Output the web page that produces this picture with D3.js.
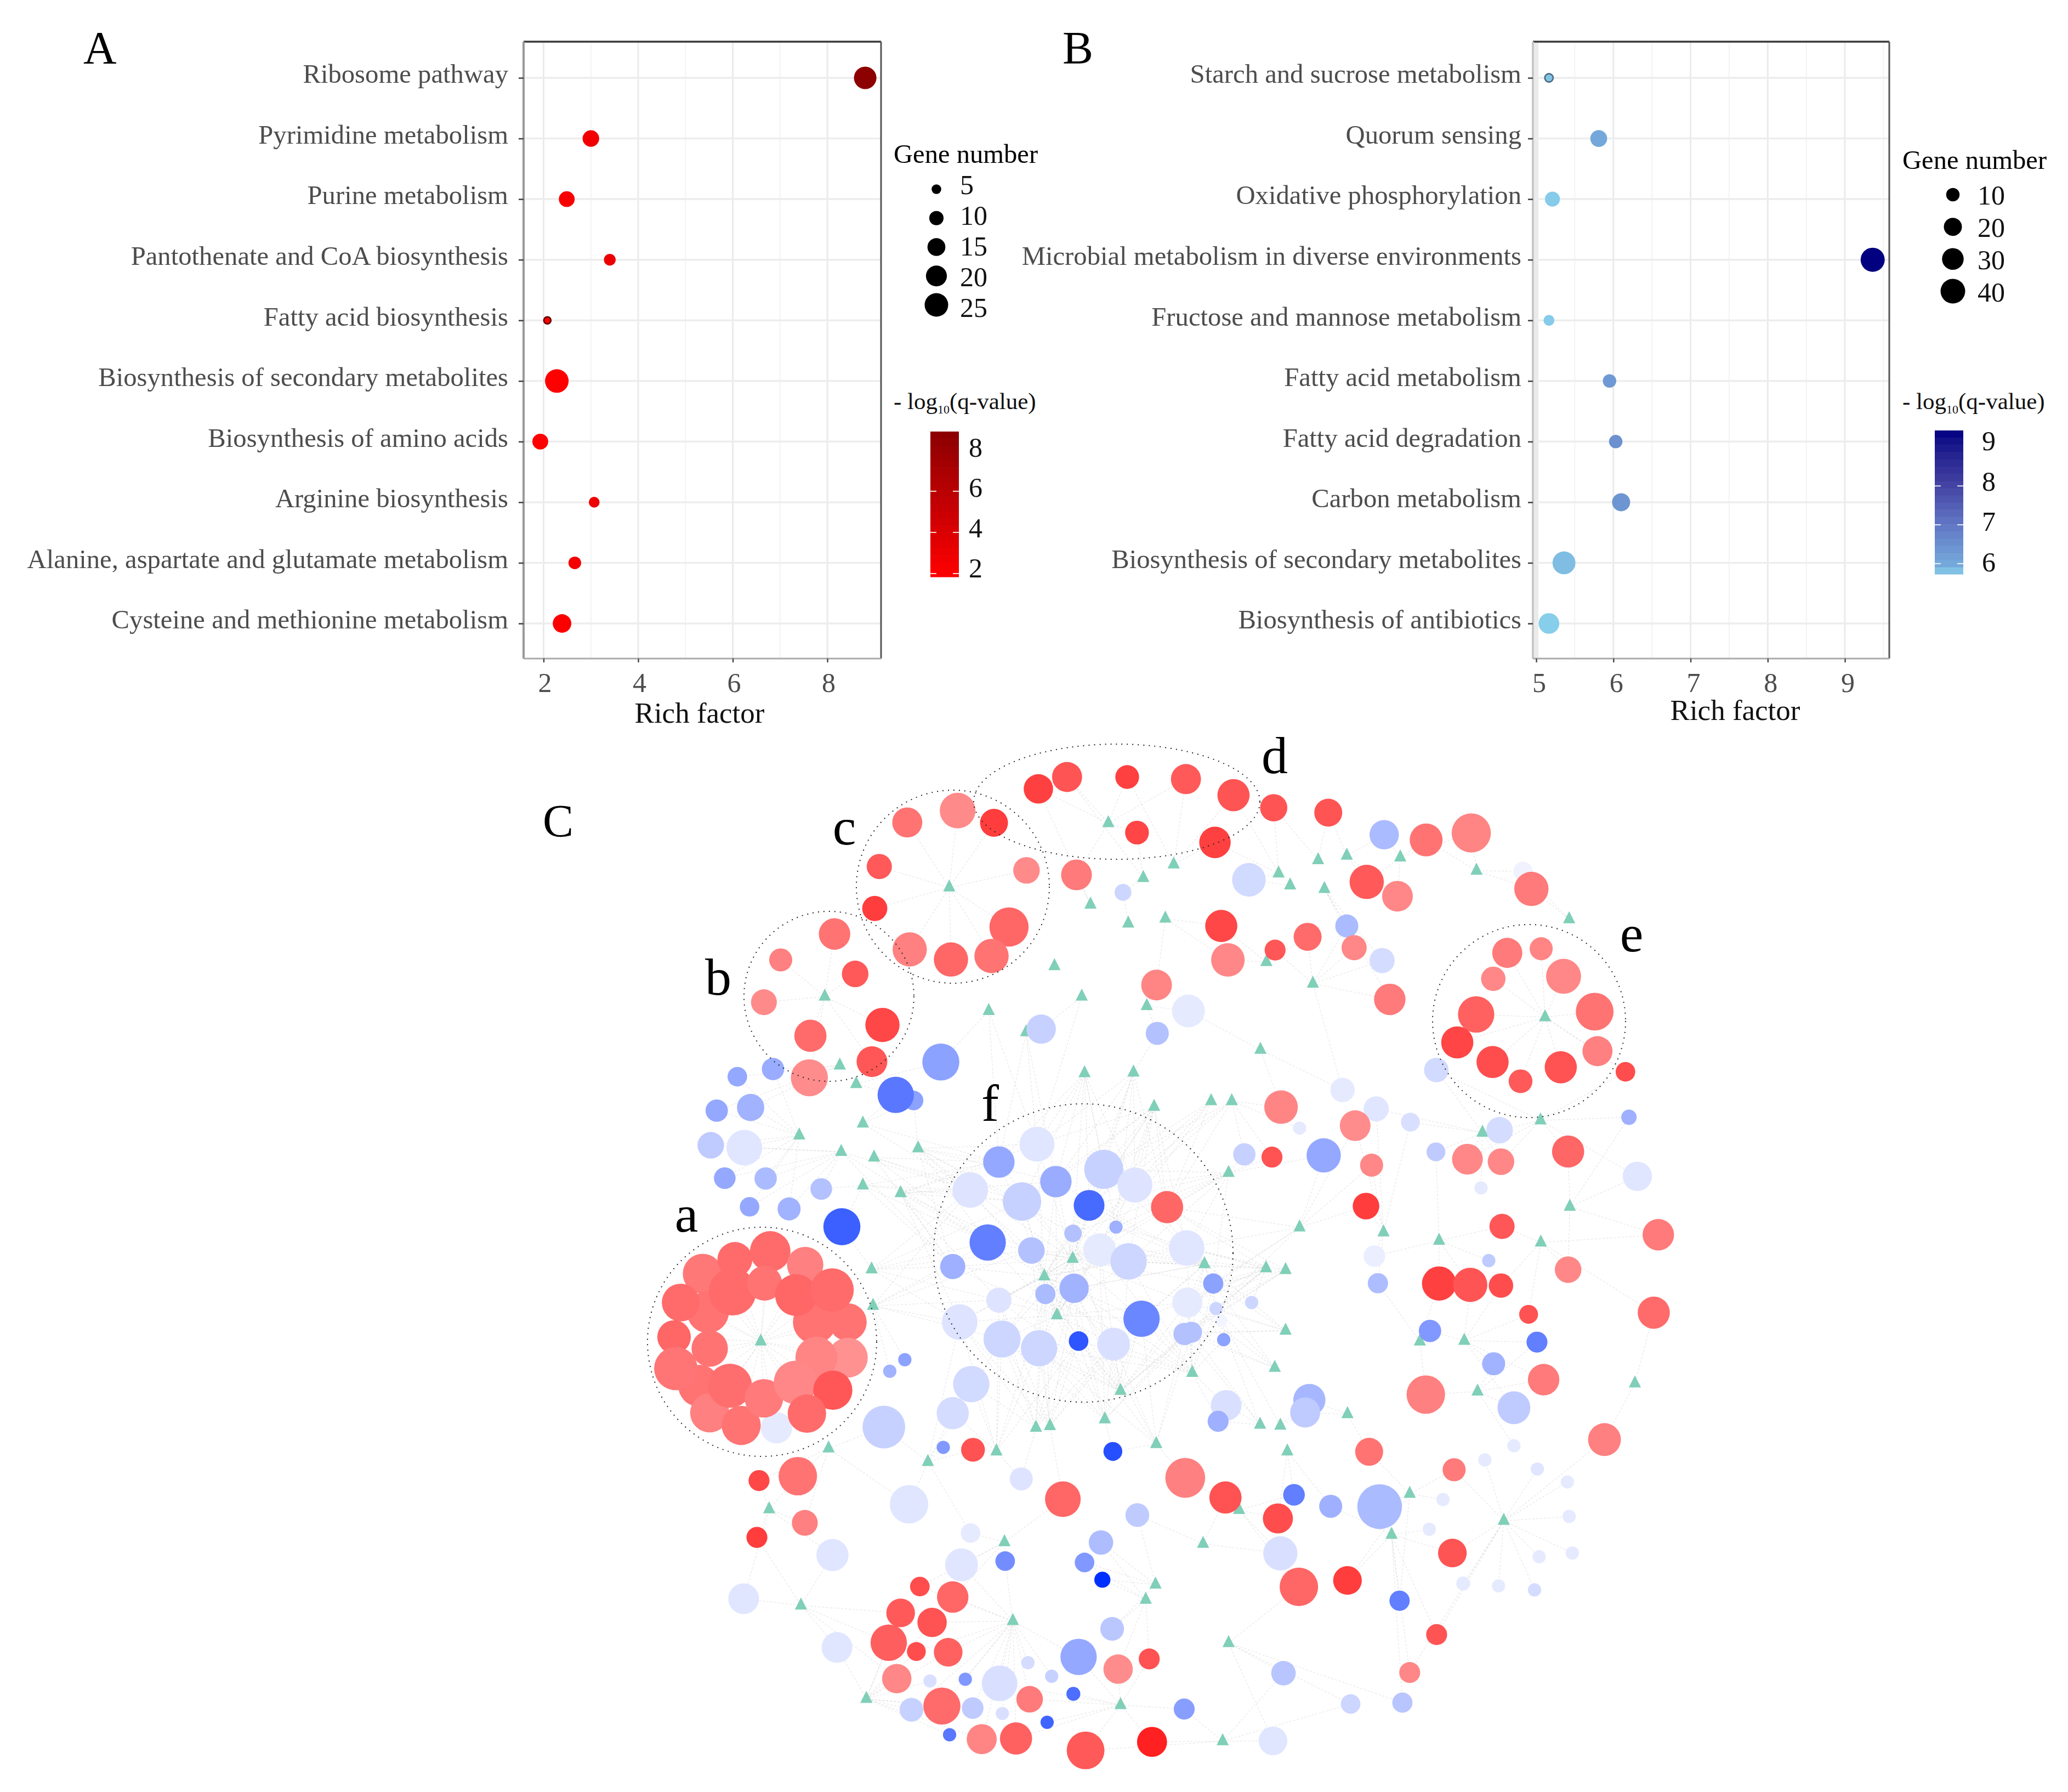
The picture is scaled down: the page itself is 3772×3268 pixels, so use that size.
<!DOCTYPE html>
<html><head><meta charset="utf-8">
<script src="https://cdn.jsdelivr.net/npm/d3@7"></script>
<style>html,body{margin:0;padding:0;background:#fff}svg{display:block}text{font-family:"Liberation Serif","Times New Roman",serif}</style>
</head><body><svg id="c" width="3772" height="3268"></svg>
<script>
// ---------- Panel A data ----------
const catsA=["Ribosome pathway","Pyrimidine metabolism","Purine metabolism","Pantothenate and CoA biosynthesis","Fatty acid biosynthesis","Biosynthesis of secondary metabolites","Biosynthesis of amino acids","Arginine biosynthesis","Alanine, aspartate and glutamate metabolism","Cysteine and methionine metabolism"];
const richA=[8.8,3.0,2.49,3.4,2.08,2.28,1.93,3.07,2.66,2.39];
const genesA=[23,13,12,7,3,25,12,6,8,16];
const qA=[8.8,2.6,2.2,3.0,2.0,1.9,1.9,2.8,2.5,2.0];
const legSizeA=[5,10,15,20,25];
const legColA=[2,4,6,8];
const xTicksA=[2,4,6,8];
// ---------- Panel B data ----------
const catsB=["Starch and sucrose metabolism","Quorum sensing","Oxidative phosphorylation","Microbial metabolism in diverse environments","Fructose and mannose metabolism","Fatty acid metabolism","Fatty acid degradation","Carbon metabolism","Biosynthesis of secondary metabolites","Biosynthesis of antibiotics"];
const richB=[5.165,5.81,5.21,9.36,5.165,5.95,6.03,6.10,5.36,5.165];
const genesB=[3,17,13,38,6,10,10,20,34,27];
const qB=[5.8,6.0,5.75,9.43,5.75,6.3,6.5,6.4,5.85,5.73];
const legSizeB=[10,20,30,40];
const legColB=[6,7,8,9];
const xTicksB=[5,6,7,8,9];
// ---------- Panel C: network nodes [x, y, size, signed abundance] per survey tile ----------
const nodesTileNW=[[1245,139,42,.75],[1327,105,43,.67],[1499,105,34,.75],[1527,264,34,.73],[870,235,43,.55],[1014,201,51,.46],[1118,236,40,.76],[790,361,36,.65],[1211,372,38,.46],[777,481,36,.76],[877,598,49,.5],[995,627,49,.6],[1161,534,56,.6],[1111,617,49,.55],[1354,385,44,.52],[1487,435,24,-.2],[662,554,45,.55],[508,628,33,.5],[721,668,38,.65],[460,749,37,.46],[593,845,46,.58],[799,814,49,.72],[486,940,32,-.4],[769,919,44,.66],[590,965,53,.45],[384,962,28,-.42],[325,1059,32,-.42],[422,1050,39,-.37],[308,1158,38,-.25],[404,1165,51,-.12],[348,1252,31,-.42],[465,1253,32,-.33],[624,1283,31,-.3],[419,1334,28,-.42],[532,1340,33,-.37],[683,1391,53,-.77],[966,920,53,-.45],[888,1030,28,-.45],[837,1014,52,-.65],[1253,826,42,-.22],[1241,1155,50,-.12],[1132,1206,45,-.42],[1432,1227,56,-.22],[1050,1286,51,-.13],[1295,1262,45,-.4],[1198,1319,55,-.22],[1521,1272,50,-.13],[1390,1330,44,-.72],[1100,1436,52,-.62],[1225,1459,38,-.3],[1344,1410,25,-.3],[1467,1392,19,-.38],[1420,1457,47,-.1],[1503,1490,52,-.2],[1000,1505,36,-.38]];
const nodesTileNE=[[99,111,43,.65],[235,157,46,.67],[350,193,39,.67],[506,207,40,.67],[182,292,45,.75],[666,270,42,-.33],[786,285,47,.55],[915,265,56,.48],[279,399,48,-.18],[704,446,44,.47],[616,405,49,.65],[1063,375,28,-.06],[1087,425,49,.52],[200,531,46,.72],[219,628,48,.47],[354,600,30,.66],[447,562,40,.58],[559,531,33,-.33],[580,593,36,.47],[660,630,36,-.17],[682,741,45,.52],[15,700,44,.48],[106,774,47,-.1],[17,838,33,-.3],[1018,608,43,.52],[1115,596,33,.48],[978,682,35,.47],[1179,675,50,.47],[1268,776,54,.55],[815,943,35,-.18],[929,784,52,.62],[1276,889,43,.5],[875,864,46,.73],[976,920,46,.7],[1171,935,46,.68],[1056,975,34,.65],[1356,948,28,.7],[547,1000,35,-.1],[643,1054,36,-.12],[741,1092,27,-.15],[1366,1078,22,-.38],[371,1049,48,.48],[424,1109,19,-.1],[583,1102,44,.45],[996,1115,38,-.17],[266,1184,32,-.22],[345,1192,30,.68],[493,1187,49,-.42],[630,1215,33,.47],[814,1177,27,-.25],[904,1198,44,.47],[1000,1205,38,.47],[1192,1176,46,.6],[1390,1247,42,-.12],[943,1280,19,-.1],[45,1335,46,.6],[614,1332,38,.76],[1003,1390,36,.66],[101,1452,51,-.12],[1450,1414,45,.52],[638,1475,31,-.08],[965,1488,19,-.25]];
const nodesTileSW=[[285,37,57,.53],[377,-5,50,.58],[478,-29,58,.58],[578,11,52,.5],[605,180,62,.55],[700,180,54,.55],[300,150,60,.55],[370,90,68,.58],[462,65,50,.55],[552,100,60,.6],[655,85,62,.58],[222,122,54,.58],[203,224,48,.6],[305,258,52,.55],[700,285,57,.43],[610,285,60,.48],[275,368,60,.55],[208,317,62,.54],[305,448,56,.5],[395,485,56,.55],[496,492,45,-.1],[363,368,63,.57],[460,405,55,.52],[550,358,62,.47],[657,381,56,.66],[583,450,55,.58],[1347,80,42,-.37],[1265,97,29,-.33],[1132,115,36,-.13],[1020,180,51,-.13],[1540,170,52,-.58],[1141,230,53,-.2],[1247,257,52,-.2],[1360,236,28,-.82],[1460,245,47,-.15],[863,291,19,-.45],[820,325,19,-.37],[1053,363,52,-.18],[1000,449,46,-.17],[803,490,61,-.22],[973,550,19,-.5],[1058,557,34,.68],[1458,562,27,-.85],[446,648,30,.72],[557,635,55,.55],[577,773,37,.5],[440,816,30,.76],[1196,643,33,-.13],[1315,703,51,.6],[875,718,55,-.12],[1528,750,34,-.25],[1051,803,28,-.1],[1424,831,35,-.32],[1025,897,47,-.12],[1150,886,28,-.55],[1377,890,28,-.5],[1428,941,23,-1],[656,868,46,-.12],[402,997,44,-.12],[669,1141,44,-.12],[906,961,28,.7],[1000,992,45,.6],[851,1039,41,.65],[941,1067,42,.68],[817,1127,52,.63],[896,1153,27,.7],[987,1155,41,.62],[840,1233,42,.47],[935,1240,19,-.15],[1036,1235,19,-.5],[1134,1247,51,-.15],[1215,1186,19,-.17],[1283,1226,19,-.22],[1220,1294,38,.52],[882,1325,34,-.22],[1057,1320,31,-.25],[969,1314,53,.58],[1142,1336,19,-.15],[1345,1278,20,-.7],[1270,1362,19,-.75],[991,1399,19,-.65],[1083,1412,43,.48],[1181,1410,46,.62],[1380,1445,54,.65],[1456,1086,34,-.27],[1360,1169,52,-.42],[1473,1205,42,.45],[1562,1175,30,.68],[1570,1420,43,.87]];
const nodesTileSE=[[177,66,29,-.45],[103,122,43,-.1],[185,140,19,-.2],[287,122,19,-.2],[200,175,17,-.05],[95,215,32,-.3],[115,210,30,-.3],[207,232,19,-.45],[648,65,29,-.32],[823,66,49,.75],[912,70,49,.67],[1000,72,35,.7],[1192,25,38,.47],[1079,157,27,.68],[1437,152,46,.58],[1103,239,30,-.62],[797,206,32,-.5],[979,303,33,-.37],[1122,350,45,.52],[785,394,55,.5],[1037,433,47,-.25],[1296,527,47,.5],[452,410,46,-.35],[440,447,43,-.25],[214,426,44,-.15],[191,473,30,-.38],[623,563,40,.55],[97,640,57,.5],[212,698,46,.68],[408,690,31,-.62],[513,724,33,-.38],[653,725,64,-.33],[362,760,43,.7],[369,863,49,-.15],[422,962,55,.6],[561,943,41,.76],[710,1003,29,-.62],[816,1103,30,.67],[739,1215,30,.47],[378,1217,35,-.28],[570,1308,28,-.2],[718,1304,29,-.28],[94,1323,30,-.47],[348,1417,41,-.12],[866,616,33,.52],[954,587,19,-.1],[1037,545,19,-.1],[1104,614,19,-.12],[1190,652,19,-.1],[834,704,19,-.1],[1195,754,19,-.1],[795,792,19,-.1],[1204,862,19,-.1],[1109,873,19,-.1],[861,862,41,.67],[892,952,20,-.1],[993,959,19,-.1],[1096,971,19,-.17]];
// ---------- Panel C: module hubs [x, y] per survey tile ----------
const hubsTileNW=[[1445,237],[1545,394],[1394,470],[1502,524],[990,421],[1291,646],[1369,733],[634,733],[1103,774],[1210,835],[677,930],[724,983],[1377,952],[1517,950],[743,1096],[561,1130],[681,1177],[775,1193],[901,1167],[743,1273],[851,1295],[1343,1483],[1262,1533],[768,1513],[1555,760]];
const hubsTileNE=[[64,355],[477,343],[559,330],[712,335],[364,381],[397,415],[495,425],[930,373],[40,510],[1195,512],[329,634],[462,696],[1126,792],[312,885],[171,1032],[230,1032],[8,1048],[1113,1087],[947,1122],[221,1237],[1197,1334],[424,1393],[664,1407],[823,1431],[1114,1436],[152,1498],[328,1510],[384,1515]];
const hubsTileSW=[[772,132],[451,237],[1298,160],[1480,383],[1435,467],[1238,492],[1278,487],[1125,562],[929,593],[645,553],[475,733],[1148,830],[1552,1000],[1172,1063],[566,1017],[753,1293],[1480,1311]];
const hubsTileSE=[[384,205],[353,315],[117,330],[768,237],[895,235],[933,385],[1383,361],[561,452],[311,483],[369,486],[14,540],[389,562],[739,687],[251,735],[687,808],[148,835],[12,955],[221,1128],[204,1418],[1008,767]];
// ---------- Panel C: module outlines and letters ----------
const moduleNames=["a","b","c","d","e","f"];
const moduleCx=[1390,1512,1738,2037,2789,1976];
const moduleCy=[2447,1817,1617,1462,1862,2285];
const moduleRx=[209,155,176,261,176,273];
const moduleRy=[209,155,176,105,176,272];
const moduleLabelX=[1252,1310,1540,2325,2976,1806];
const moduleLabelY=[2246,1814,1540,1410,1735,2044];

const svg=d3.select("#c");
const FS="'Liberation Serif','Times New Roman',serif";

function dotPanel(o){
  const g=svg.append("g");
  const x=d3.scaleLinear().domain(o.xDom).range([o.left,o.right]);
  const y=d3.scalePoint().domain(o.cats).range([o.yTop,o.yBot]);
  const minor=d3.range(0,o.xTicks.length-1).map(i=>(o.xTicks[i]+o.xTicks[i+1])/2);
  if(o.extraMinor) minor.push(...o.extraMinor);
  g.selectAll(".mn").data(minor).join("line").attr("x1",d=>x(d)).attr("x2",d=>x(d)).attr("y1",o.top).attr("y2",o.bot).attr("stroke","#f2f2f2").attr("stroke-width",1.8);
  g.selectAll(".mj").data(o.xTicks).join("line").attr("x1",d=>x(d)).attr("x2",d=>x(d)).attr("y1",o.top).attr("y2",o.bot).attr("stroke","#ebebeb").attr("stroke-width",(d,i)=>i===0?o.firstGrid:3);
  g.selectAll(".hz").data(o.cats).join("line").attr("x1",o.left).attr("x2",o.right).attr("y1",d=>y(d)).attr("y2",d=>y(d)).attr("stroke","#ededed").attr("stroke-width",3.5);
  const size=d3.scaleSqrt().domain(o.sizeDom).range(o.sizeRange);
  const col=d3.scaleLinear().domain(o.colDom).range(o.colRange).interpolate(d3.interpolateLab);
  g.selectAll(".pt").data(o.cats).join("circle").attr("cx",(d,i)=>x(o.rich[i])).attr("cy",d=>y(d)).attr("r",(d,i)=>size(o.genes[i])).attr("fill",(d,i)=>col(o.q[i]))
    .attr("stroke",(d,i)=>o.genes[i]<=o.sizeDom[0]?o.ring:"none").attr("stroke-width",2.6);
  [[o.left,o.top,o.right,o.top,"#3a3a3a",3.6],[o.right,o.top,o.right,o.bot,"#555",3],[o.left,o.top,o.left,o.bot,o.leftEdge,4],[o.left,o.bot,o.right,o.bot,"#aaa",3]].forEach(l=>
    g.append("line").attr("x1",l[0]).attr("y1",l[1]).attr("x2",l[2]).attr("y2",l[3]).attr("stroke",l[4]).attr("stroke-width",l[5]));
  const ay=d3.axisLeft(y).tickSize(9).tickPadding(o.catPad);
  const gy=g.append("g").attr("transform",`translate(${o.left},0)`).call(ay);
  gy.select(".domain").remove();
  gy.selectAll("line").attr("stroke","#444").attr("stroke-width",2.6);
  gy.selectAll("text").attr("font-size",48.7).attr("fill","#4d4d4d").attr("dy","0.18em").attr("font-family",FS);
  const ax=d3.axisBottom(x).tickValues(o.xTicks).tickFormat(d3.format("d")).tickSize(7).tickPadding(18);
  const gx=g.append("g").attr("transform",`translate(0,${o.bot})`).call(ax);
  gx.select(".domain").remove();
  gx.selectAll("line").attr("stroke","#444").attr("stroke-width",2.4);
  gx.selectAll("text").attr("font-size",50).attr("fill","#4d4d4d").attr("font-family",FS).attr("dx",o.tickDx);
  g.append("text").attr("x",o.xLabX).attr("y",o.xLabY).attr("text-anchor","middle").attr("font-size",53).attr("fill","#111").text("Rich factor");
  // size legend
  g.append("text").attr("x",o.legX).attr("y",o.legTitleY).attr("font-size",48.6).attr("fill","#000").text("Gene number");
  g.selectAll(".ls").data(o.legSize).join("circle").attr("cx",o.legCx).attr("cy",(d,i)=>o.legYs(i)).attr("r",d=>size(d)).attr("fill","#000");
  g.selectAll(".lt").data(o.legSize).join("text").attr("x",o.legTx).attr("y",(d,i)=>o.legLabYs(i)+16).attr("font-size",50).attr("fill","#111").text(d=>d);
  // colour legend
  const t=g.append("text").attr("x",o.legX).attr("y",746).attr("font-size",43).attr("fill","#111").text("- log");
  t.append("tspan").attr("font-size",22).attr("dy",8).text("10");
  t.append("tspan").attr("dy",-8).text("(q-value)");
  const by=d3.scaleLinear().domain(o.barDom).range(o.barRange);
  const vals=d3.range(20).map(i=>o.barDom[0]+(o.barDom[1]-o.barDom[0])*i/20);
  const step=(o.barDom[1]-o.barDom[0])/20;
  g.selectAll(".bin").data(vals).join("rect").attr("x",o.barX).attr("width",o.barW).attr("y",d=>by(d+step)).attr("height",d=>by(d)-by(d+step)+0.6).attr("fill",d=>col(d+step/2));
  o.barTicks.forEach(v=>{
    [[o.barX,o.barX+11],[o.barX+o.barW-11,o.barX+o.barW]].forEach(p=>g.append("line").attr("x1",p[0]).attr("x2",p[1]).attr("y1",by(v)).attr("y2",by(v)).attr("stroke","#fff").attr("stroke-width",2).attr("stroke-opacity",.85));
  });
  g.selectAll(".cl").data(o.legCol).join("text").attr("x",o.barTx).attr("y",d=>o.barLab(d)+17).attr("font-size",50).attr("fill","#111").text(d=>d);
}

dotPanel({id:"A",cats:catsA,rich:richA,genes:genesA,q:qA,left:955,right:1607,top:76,bot:1201,yTop:142,yBot:1137,
  xDom:[1.577,9.135],xTicks:xTicksA,sizeDom:[3,25],sizeRange:[6.5,21.5],colDom:[1.84,8.9],colRange:["#ff0000","#8b0000"],ring:"#5a0000",leftEdge:"#999",firstGrid:3,
  catPad:19,tickDx:2,xLabX:1276,xLabY:1318,legX:1630,legTitleY:297,legSize:legSizeA,legCx:1708,legYs:d3.scaleLinear().domain([0,4]).range([345,556]),legLabYs:d3.scaleLinear().domain([0,4]).range([338,562]),legTx:1751,
  barDom:[1.84,8.9],barRange:[1052,787],barX:1697,barW:52,barTx:1767,legCol:legColA,barTicks:[2,4,6],barLab:d3.scaleLinear().domain([2,8]).range([1036,816])});
dotPanel({id:"B",cats:catsB,rich:richB,genes:genesB,q:qB,left:2796,right:3446,top:76,bot:1201,yTop:142,yBot:1137,
  xDom:[4.957,9.575],xTicks:xTicksB,extraMinor:[9.5],sizeDom:[3,40],sizeRange:[7.6,22.5],colDom:[5.73,6,7,8,9,9.43],colRange:["#87ceeb","#74a8da","#6278c5","#4345a3","#1a1a8c","#000080"],ring:"#4a6a80",leftEdge:"#c8c8c8",firstGrid:8,
  catPad:12,tickDx:5,xLabX:3165,xLabY:1313,legX:3470,legTitleY:308,legSize:legSizeB,legCx:3562,legYs:d3.scaleLinear().domain([0,3]).range([355,531]),legLabYs:d3.scaleLinear().domain([0,3]).range([357,534]),legTx:3607,
  barDom:[5.73,9.43],barRange:[1047,785],barX:3529,barW:52,barTx:3615,legCol:legColB,barTicks:[6,7,8],barLab:d3.scaleLinear().domain([6,9]).range([1025,804])});

[["A",152,116],["B",1938,116],["C",990,1526]].forEach(a=>svg.append("text").attr("x",a[1]).attr("y",a[2]).attr("font-size",84).attr("fill","#000").text(a[0]));

// ---------- network ----------
const tile=(x0,y0,ySpan)=>({x:d3.scaleLinear().domain([0,1568]).range([x0,x0+1000]),y:d3.scaleLinear().domain([0,1568]).range([y0,y0+ySpan])});
const tiles=[[tile(1100,1350,1000),nodesTileNW,hubsTileNW],[tile(2100,1350,1000),nodesTileNE,hubsTileNE],[tile(1100,2300,968),nodesTileSW,hubsTileSW],[tile(2100,2300,968),nodesTileSE,hubsTileSE]];
const rad=d3.scaleLinear().domain([0,1568]).range([0,1000]);
const red=d3.scaleLinear().domain([0,1]).range(["#ffffff","#ff0000"]);
const blue=d3.scaleLinear().domain([0,1]).range(["#ffffff","#0030ff"]);
const nodes=[],hubs=[];
tiles.forEach(([t,ns,hs])=>{
  ns.forEach(n=>nodes.push({x:t.x(n[0]),y:t.y(n[1]),r:rad(n[2]),v:n[3]}));
  hs.forEach(h=>hubs.push({x:t.x(h[0]),y:t.y(h[1])}));
});
const inModule=(p)=>{for(let i=0;i<6;i++){const dx=(p.x-moduleCx[i])/moduleRx[i],dy=(p.y-moduleCy[i])/moduleRy[i];if(dx*dx+dy*dy<1.02)return i;}return -1;};
const byDist=(p)=>hubs.map(h=>({h,d:(h.x-p.x)**2+(h.y-p.y)**2})).sort((a,b)=>a.d-b.d).map(o=>o.h);
const moduleHub=moduleNames.map((m,i)=>byDist({x:moduleCx[i],y:moduleCy[i]})[0]);
const links=[];
nodes.forEach(n=>{
  const m=inModule(n);
  if(m===5){byDist(n).slice(0,10).forEach(h=>links.push([n,h]));}
  else if(m>=0&&m!==3){links.push([n,moduleHub[m]]);}
  else{byDist(n).slice(0,n.r<13?1:2).forEach(h=>links.push([n,h]));}
});
const net=svg.append("g");
net.append("g").selectAll("line").data(links).join("line")
  .attr("x1",d=>d[0].x).attr("y1",d=>d[0].y).attr("x2",d=>d[1].x).attr("y2",d=>d[1].y)
  .attr("stroke","#c4c4c4").attr("stroke-width",1.3).attr("stroke-opacity",.38).attr("stroke-dasharray","4 3");
const tri=d3.symbol().type(d3.symbolTriangle).size(215);
net.append("g").selectAll("path").data(hubs).join("path").attr("d",tri).attr("transform",d=>`translate(${d.x},${d.y}) scale(1,1.14)`).attr("fill","#80cfb8");
net.append("g").selectAll("circle").data(nodes).join("circle").attr("cx",d=>d.x).attr("cy",d=>d.y).attr("r",d=>d.r).attr("fill",d=>d.v>0?red(d.v):blue(-d.v));
const mods=svg.append("g");
mods.selectAll("ellipse").data(moduleNames).join("ellipse").attr("cx",(d,i)=>moduleCx[i]).attr("cy",(d,i)=>moduleCy[i]).attr("rx",(d,i)=>moduleRx[i]).attr("ry",(d,i)=>moduleRy[i])
  .attr("fill","none").attr("stroke","#222").attr("stroke-width",2).attr("stroke-dasharray","2 8");
mods.selectAll("text").data(moduleNames).join("text").attr("x",(d,i)=>moduleLabelX[i]).attr("y",(d,i)=>moduleLabelY[i]).attr("text-anchor","middle").attr("font-size",96).attr("fill","#000").text(d=>d);
</script></body></html>
